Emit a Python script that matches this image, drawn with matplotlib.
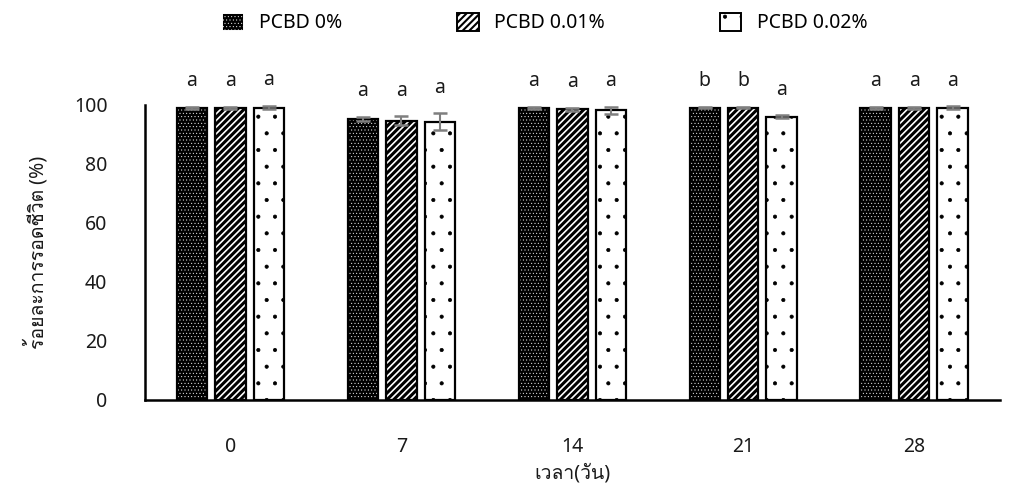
import numpy as np
import matplotlib
matplotlib.use('Agg')
import matplotlib.pyplot as plt
from matplotlib import font_manager
from matplotlib.ft2font import FT2Font
from matplotlib.patches import Patch

# find a font that can draw Thai
thai_font = None
for f in font_manager.fontManager.ttflist:
    try:
        if FT2Font(f.fname).get_char_index(0x0E23):
            thai_font = f.name
            break
    except Exception:
        pass

fams = ['Noto Sans']
if thai_font:
    fams.append(thai_font)
fams.append('DejaVu Sans')
plt.rcParams['font.family'] = fams

days = ['0', '7', '14', '21', '28']
series = ['PCBD 0%', 'PCBD 0.01%', 'PCBD 0.02%']
pcbd0 = [99.0, 95.3, 99.0, 99.1, 99.0]
pcbd1 = [99.0, 94.6, 98.6, 99.1, 99.0]
pcbd2 = [99.1, 94.3, 98.2, 96.0, 99.0]
err0 = [0.3, 0.6, 0.3, 0.2, 0.3]
err1 = [0.3, 1.5, 0.5, 0.2, 0.3]
err2 = [0.5, 2.8, 1.2, 0.5, 0.5]
let0 = ['a', 'a', 'a', 'b', 'a']
let1 = ['a', 'a', 'a', 'b', 'a']
let2 = ['a', 'a', 'a', 'a', 'a']

fig = plt.figure(figsize=(10.09, 4.95), dpi=100)
ax = fig.add_axes([0.1437, 0.192, 0.847, 0.596])

x = np.arange(len(days)) + 0.5
w = 0.178
step = 0.225
styles = [
    dict(facecolor='black', edgecolor='white', hatch='.....'),
    dict(facecolor='white', edgecolor='black', hatch='/////'),
    dict(facecolor='white', edgecolor='black', hatch='.'),
]
hatch_lw = [0.3, 2.2, 0.5]
data = [(pcbd0, err0, let0), (pcbd1, err1, let1), (pcbd2, err2, let2)]
fs = 14
tc = '#1a1a1a'

handles = []
for i, (vals, errs, lets) in enumerate(data):
    pos = x + (i - 1) * step
    with plt.rc_context({'hatch.linewidth': hatch_lw[i]}):
        bars = ax.bar(pos, vals, w, linewidth=0, **styles[i])
        h = Patch(label=series[i], linewidth=1.4, **styles[i])
    for b in list(bars) + [h]:
        if hasattr(b, 'set_hatch_linewidth'):
            b.set_hatch_linewidth(hatch_lw[i])
    ax.bar(pos, vals, w, fill=False, edgecolor='black', linewidth=1.6)
    ax.errorbar(pos, vals, yerr=errs, fmt='none', ecolor='#7f7f7f',
                elinewidth=1.5, capsize=5, capthick=1.8)
    for p, v, e, t in zip(pos, vals, errs, lets):
        ax.text(p, v + e + 7.0, t, ha='center', va='baseline',
                fontsize=fs, color=tc, clip_on=False)
    handles.append(h)

ax.set_xlim(0, 5)
ax.set_ylim(0, 100)
ax.set_xticks(x)
ax.set_xticklabels(days)
ax.set_yticks(np.arange(0, 101, 20))
ax.tick_params(length=0, labelsize=fs, colors=tc, pad=27)
for s in ['top', 'right']:
    ax.spines[s].set_visible(False)
ax.spines['left'].set_linewidth(1.8)
ax.spines['bottom'].set_linewidth(1.8)

ax.set_ylabel('ร้อยละการรอดชีวิต (%)', fontsize=fs, color=tc, labelpad=18)
ax.set_xlabel('เวลา(วัน)', fontsize=fs, color=tc, labelpad=4)

leg = fig.legend(handles=handles, loc='upper center', bbox_to_anchor=(0.54, 1.01),
                 ncol=3, frameon=False, fontsize=fs, columnspacing=5.9,
                 handlelength=1.1, handleheight=1.1, handletextpad=0.8)
for p, lw in zip(leg.get_patches(), [0.3, 1.5, 0.5]):
    if hasattr(p, 'set_hatch_linewidth'):
        p.set_hatch_linewidth(lw)

fig.savefig('out.png', dpi=100)
